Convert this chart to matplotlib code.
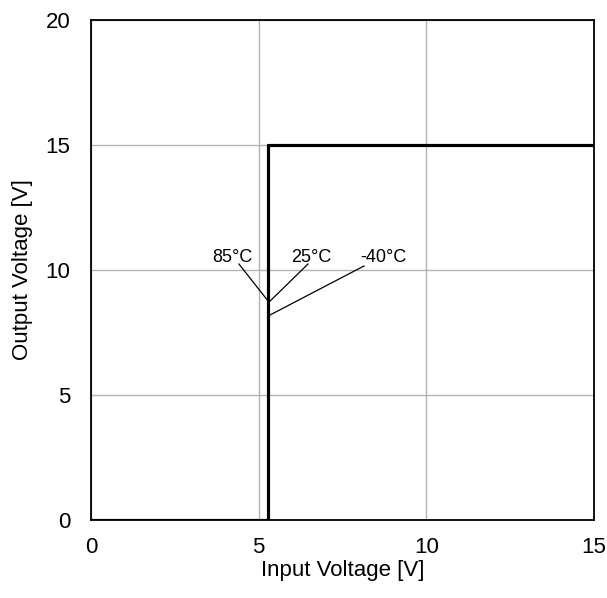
import matplotlib.pyplot as plt

plt.rcParams['font.family'] = ['Liberation Sans', 'DejaVu Sans']

# Output voltage vs input voltage at three temperatures
vin = [0, 5.28, 5.28, 15]
vout_85 = [0, 0, 15, 15]
vout_25 = [0, 0, 15, 15]
vout_m40 = [0, 0, 15, 15]

labels = ["85°C", "25°C", "-40°C"]
label_xy = [(4.2, 10.32), (6.56, 10.32), (8.72, 10.32)]
line_start = [(4.41, 10.24), (6.47, 10.24), (8.14, 10.16)]
line_end = [(5.28, 8.76), (5.28, 8.68), (5.28, 8.16)]

fig = plt.figure(figsize=(6.07, 5.98), dpi=100)
ax = fig.add_axes([0.15, 0.1304, 0.8286, 0.8362])

for v in (vout_85, vout_25, vout_m40):
    ax.plot(vin, v, color='black', linewidth=2.2)

for lab, xy, s, e in zip(labels, label_xy, line_start, line_end):
    ax.text(xy[0], xy[1], lab, ha='center', va='baseline', fontsize=13)
    ax.plot([s[0], e[0]], [s[1], e[1]], color='black', linewidth=0.9)

ax.set_xlim(0, 15)
ax.set_ylim(0, 20)
ax.set_xticks([0, 5, 10, 15])
ax.set_yticks([0, 5, 10, 15, 20])
ax.grid(True, color='#b4b4b4', linewidth=1)
ax.set_axisbelow(True)
ax.tick_params(length=0, labelsize=16)
ax.tick_params(axis='x', pad=12)
ax.tick_params(axis='y', pad=15)
for sp in ax.spines.values():
    sp.set_linewidth(1.3)
ax.set_xlabel("Input Voltage [V]", fontsize=16, labelpad=2)
ax.set_ylabel("Output Voltage [V]", fontsize=16, labelpad=9)

fig.savefig("out.png", dpi=100)
